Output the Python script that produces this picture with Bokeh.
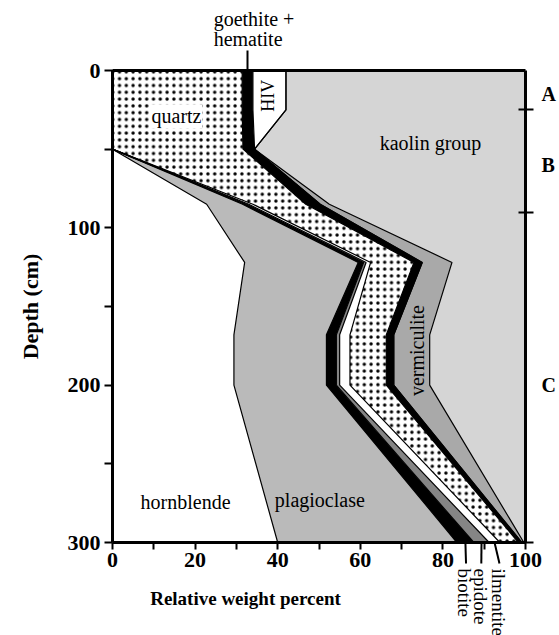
import numpy as np
from bokeh.plotting import figure
from bokeh.models import Range1d, LinearAxis, FixedTicker, Label
from bokeh.core.properties import value
from bokeh.embed import file_html
from bokeh.resources import INLINE

# ---- data ----
depth = [0, 25, 50, 85, 122, 168, 200, 300]          # cm
hornblende  = [0.0, 0.0, 0.0, 22.8, 32.0, 29.4, 29.4, 40.0]
plagioclase = [0.0, 0.0, 0.0, 8.7, 27.5, 22.4, 22.4, 43.4]
biotite     = [0.0, 0.0, 0.0, 1.0, 1.3, 2.4, 2.4, 4.1]
epidote     = [0.0, 0.0, 0.0, 0.5, 0.6, 0.8, 0.8, 3.7]
ilmentite   = [0.0, 0.0, 0.0, 1.0, 1.1, 2.5, 2.5, 2.6]
quartz      = [31.4, 31.4, 31.6, 12.8, 10.5, 8.8, 8.8, 4.5]
goethite    = [2.6, 2.6, 2.8, 3.5, 2.0, 1.8, 1.8, 0.8]
hiv         = [8.0, 8.0, 0.0, 0.0, 0.0, 0.0, 0.0, 0.0]
vermiculite = [0.0, 0.0, 0.0, 2.2, 7.2, 8.7, 8.7, 0.5]
kaolin      = [58.0, 58.0, 65.6, 47.5, 17.8, 23.2, 23.2, 0.4]

layers = [hornblende, plagioclase, biotite, epidote, ilmentite,
          quartz, goethite, hiv, vermiculite, kaolin]
fills = ["white", "#bababa", "black", "#858585", "white",
         "white", "black", "white", "#a9a9a9", "#d5d5d5"]

y_ticks = [0, 100, 200, 300]
y_minor = [50, 150, 250]
x_ticks = [0, 20, 40, 60, 80, 100]
x_minor = [10, 30, 50, 70, 90]
horizon_bounds = [25, 90]
horizon_names = ["A", "B", "C"]
horizon_mid = [15, 60, 200]
bottom_names = ["biotite", "epidote", "ilmentite"]

cum = np.cumsum(np.array(layers), axis=0)
left = np.vstack([np.zeros(len(depth)), cum[:-1]])
max_depth = depth[-1]

SERIF = "Liberation Serif"

# whole canvas is the frame; axes are placed at fixed data locations
W, H = 559, 635
PX_L, PX_R, PX_T, PX_B = 112, 525, 70, 542   # pixel positions of x=0, x=100, depth 0, depth 300
sx = 100 / (PX_R - PX_L)
sy = max_depth / (PX_B - PX_T)
x_range = Range1d(-PX_L * sx, 100 + (W - PX_R) * sx)
y_range = Range1d(max_depth + (H - PX_B) * sy, -PX_T * sy)

p = figure(width=W, height=H, x_range=x_range, y_range=y_range,
           output_backend="svg", toolbar_location=None,
           x_axis_location=None, y_axis_location=None,
           min_border=0, min_border_left=0, min_border_right=0,
           min_border_top=0, min_border_bottom=0)
p.title.visible = False
p.grid.visible = False
p.outline_line_color = None
p.background_fill_color = "white"
p.border_fill_color = "white"

for i, fc in enumerate(fills):
    kw = {}
    if i == 5:
        kw = dict(hatch_pattern="dot", hatch_color="black", hatch_scale=6.8, hatch_weight=1.0)
    p.harea(x1=left[i], x2=cum[i], y=depth, fill_color=fc, **kw)

for i in range(len(layers) - 1):
    p.line(cum[i], depth, line_color="black", line_width=1.2)

# ---- mineral labels ----
p.text(x=[77, 73.8, 17.7, 50.2],
       y=[46, 178, 274, 273],
       text=["kaolin group", "vermiculite", "hornblende", "plagioclase"],
       angle=[0, np.pi / 2, 0, 0],
       text_font=value(SERIF), text_font_size="20px",
       text_align="center", text_baseline="middle", text_color="black")
p.text(x=[37.6], y=[16], text=["HIV"], angle=[np.pi / 2],
       text_font=value(SERIF), text_font_size="18px",
       text_align="center", text_baseline="middle", text_color="black")
p.add_layout(Label(x=15.5, y=29, text="quartz", text_font=SERIF, text_font_size="20px",
                   text_align="center", text_baseline="middle", text_color="black",
                   background_fill_color="white", padding=1))

goethite_x = round(float((left[6][0] + cum[6][0]) / 2), 2)
p.text(x=[24.5, 24.5], y=[-33, -20.3], text=["goethite +", "hematite"],
       text_font=value(SERIF), text_font_size="20px",
       text_align="left", text_baseline="middle", text_color="black")

# bottom mineral pointers (from the band middles at 300 cm)
mids = [float((left[k][-1] + cum[k][-1]) / 2) for k in (2, 3, 4)]
bottom_ends = [85.6, 89.3, 93.7]
p.segment(x0=mids, y0=[max_depth] * 3, x1=bottom_ends, y1=[313.4] * 3,
          line_color="black", line_width=2)
p.text(x=[e - 0.3 for e in bottom_ends], y=[316.5] * 3, text=bottom_names,
       angle=[-np.pi / 2] * 3, text_font=value(SERIF), text_font_size="19px",
       text_align="left", text_baseline="middle", text_color="black")

# ---- axes ----
def style(ax):
    ax.axis_line_width = 3
    ax.axis_line_color = "black"
    ax.major_tick_line_width = 2
    ax.minor_tick_line_width = 2
    ax.major_tick_line_color = "black"
    ax.minor_tick_line_color = "black"
    ax.major_tick_in = 0
    ax.minor_tick_in = 0
    ax.major_label_text_font = SERIF
    ax.major_label_text_font_style = "bold"
    ax.major_label_text_color = "black"
    ax.axis_label_text_font = SERIF
    ax.axis_label_text_font_style = "bold"
    ax.axis_label_text_color = "black"

yax = LinearAxis(ticker=FixedTicker(ticks=y_ticks, minor_ticks=y_minor),
                 fixed_location=0, bounds=(0, max_depth))
style(yax)
yax.major_tick_out = 8
yax.minor_tick_out = 8
yax.major_label_text_font_size = "22px"
yax.major_label_standoff = 4
yax.axis_label = "Depth (cm)"
yax.axis_label_text_font_size = "22px"
yax.axis_label_standoff = 22
p.add_layout(yax, "left")

xax = LinearAxis(ticker=FixedTicker(ticks=x_ticks, minor_ticks=x_minor),
                 fixed_location=max_depth, bounds=(0, 100))
style(xax)
xax.major_tick_out = 7
xax.minor_tick_out = 7
xax.major_label_text_font_size = "22px"
xax.major_label_standoff = 3
p.add_layout(xax, "below")

# axis carrying the x title, centred left of the mineral pointers as in the original
title_span = (0, 64.4)
xtitle = LinearAxis(ticker=FixedTicker(ticks=[]), fixed_location=max_depth, bounds=title_span)
style(xtitle)
xtitle.axis_line_color = None
xtitle.major_tick_out = 0
xtitle.minor_tick_out = 0
xtitle.major_label_text_font_size = "0px"
xtitle.axis_label = "Relative weight percent"
xtitle.axis_label_text_font_size = "19px"
xtitle.axis_label_standoff = 45
p.add_layout(xtitle, "below")

top = LinearAxis(ticker=FixedTicker(ticks=[goethite_x]), fixed_location=0, bounds=(0, 100))
style(top)
top.major_tick_out = 20
top.minor_tick_out = 0
top.major_label_text_font_size = "0px"
top.major_label_text_alpha = 0
p.add_layout(top, "above")

right = LinearAxis(ticker=FixedTicker(ticks=horizon_mid, minor_ticks=horizon_bounds + [max_depth]),
                   fixed_location=100, bounds=(0, max_depth))
style(right)
right.major_tick_out = 0
right.minor_tick_in = 7
right.minor_tick_out = 8
right.major_label_overrides = {m: n for m, n in zip(horizon_mid, horizon_names)}
right.major_label_text_font_size = "20px"
right.major_label_standoff = 8
p.add_layout(right, "right")

open("out.html", "w").write(file_html(p, INLINE))
